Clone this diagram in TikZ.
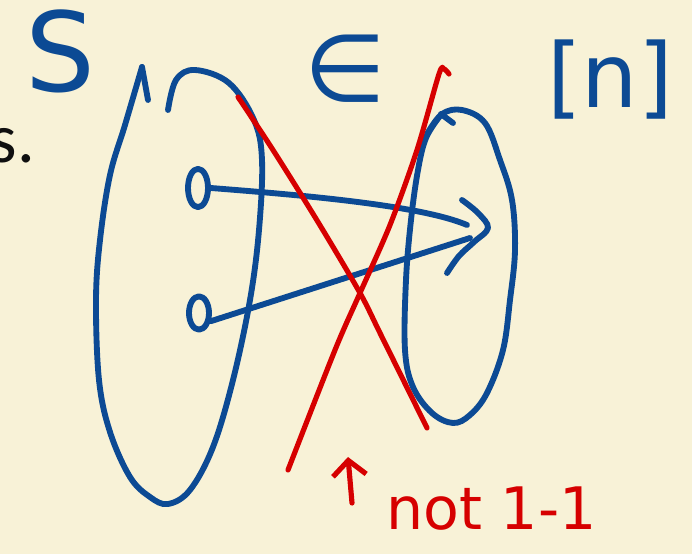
\documentclass[tikz,border=0pt]{standalone}
\usepackage{fontspec}
\newfontfamily\handfont{DejaVu Sans}
\newfontfamily\slidefont{Carlito}
\usetikzlibrary{arrows.meta,shapes.geometric}
\definecolor{paper}{RGB}{248,242,215}
\definecolor{inkblue}{RGB}{12,74,148}
\definecolor{inkred}{RGB}{214,0,0}
\definecolor{slidetext}{RGB}{15,15,15}
\tikzset{
  >={Straight Barb[length=4.5mm,width=10mm]},
  pen/.style={draw=#1,line width=5pt,line cap=round,line join=round},
  pen/.default=inkblue,
  elem/.style={ellipse,pen,minimum width=6mm,minimum height=11.5mm,inner sep=0pt},
  scrawl/.style={text=#1,inner sep=0pt},
  scrawl/.default=inkblue,
}

\begin{document}
\begin{tikzpicture}[x=0.3mm,y=-0.3mm]
  \useasboundingbox (0,0) rectangle (692,554);
  \clip (0,0) rectangle (692,554);
  \fill[paper] (0,0) rectangle (692,554);

  \node[text=slidetext,inner sep=0pt,anchor=base east,font=\slidefont\fontsize{60}{60}\selectfont] (cut) at (35,163) {s.};

  % labels
  \node[scrawl,font=\handfont\fontsize{94}{94}\selectfont] (setS) at (60,51) {S};
  \node[scrawl,font=\handfont\fontsize{80}{80}\selectfont] (isin) at (345,69) {∈};
  \node[scrawl,font=\handfont\fontsize{76}{76}\selectfont] (range) at (610,80) {[n]};
  \node[scrawl=inkred,anchor=base west,font=\handfont\fontsize{50}{50}\selectfont] (note) at (386,530) {not 1-1};

  % the two sets
  \draw[pen] (148,100) -- (142,67);
  \draw[pen] plot[smooth,tension=0.6] coordinates {(142,67) (125,125) (110,175) (100,240) (96,300) (99,380) (110,432) (130,477) (150,497) (168,504) (190,490) (213,447) (233,380) (250,300) (259,230) (262,160) (254,120) (229,83) (195,70) (176,80) (168,110)};
  \draw[pen] (441,114) -- (453,123);
  \draw[pen] plot[smooth,tension=0.6] coordinates {(427,134) (442,114) (462,110) (485,123) (500,160) (512,200) (515,250) (510,300) (503,350) (487,393) (470,415) (453,423) (432,413) (413,387) (405,350) (406,280) (411,220) (418,170) (426,138) (440,116)};

  % elements and the map
  \node[elem] (a1) at (198,188) {};
  \node[elem,minimum height=10mm] (a2) at (199,313) {};
  \coordinate (e1) at (467,225);
  \coordinate (e2) at (470,238);
  \coordinate (tip) at (488,228);
  \draw[pen] (a1.east) .. controls (300,195) and (420,205) .. (e1);
  \draw[pen] (a2.-35) -- (e2);
  \draw[pen] plot[smooth,tension=0.6] coordinates {(462,200) (478,213) (tip) (474,242) (459,256) (447,273)};

  % crossing out
  \draw[pen=inkred,line width=4.4pt] plot[smooth,tension=0.5] coordinates {(238,97) (273,150) (318,222) (360,293) (380,333) (427,428)};
  \draw[pen=inkred,line width=4.4pt] plot[smooth,tension=0.5] coordinates {(449,74) (444,69) (439,74) (417,150) (390,225) (360,293) (335,350) (288,470)};
  \coordinate (up-from) at (352,503);
  \coordinate (up-to) at (348,457);
  \draw[pen=inkred,line width=4.4pt,->] (up-from) -- (up-to);
\end{tikzpicture}
\end{document}
